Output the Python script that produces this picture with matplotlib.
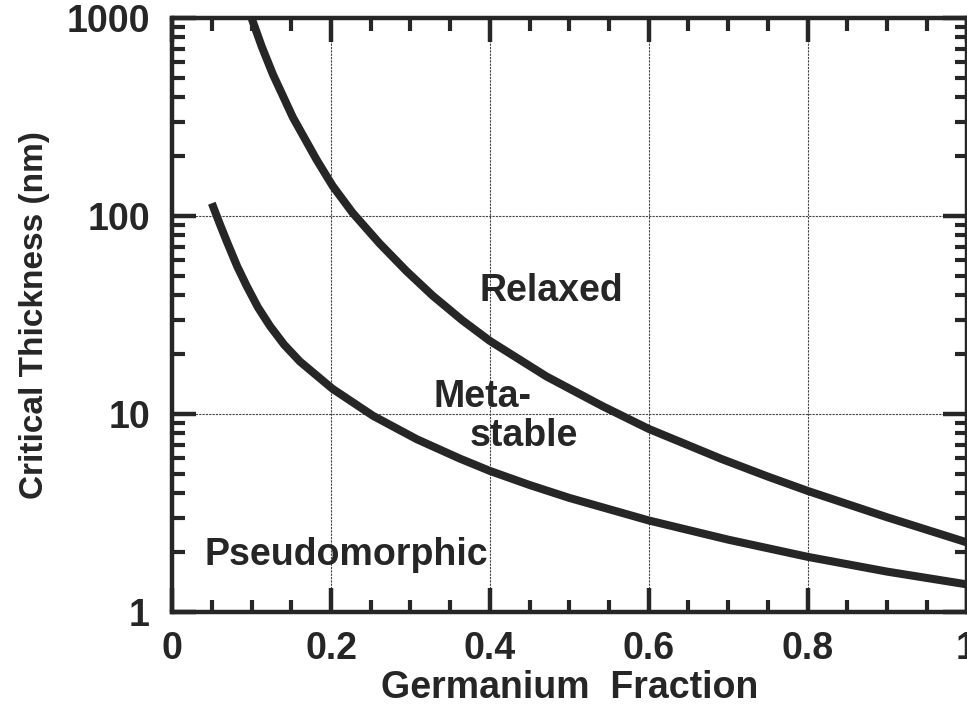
import matplotlib.pyplot as plt
from matplotlib.ticker import MultipleLocator, LogLocator, NullFormatter

# data
relaxed_x = [0.100, 0.113, 0.127, 0.152, 0.182, 0.202, 0.227, 0.261, 0.295, 0.328, 0.365,
             0.400, 0.471, 0.541, 0.600, 0.692, 0.750, 0.800, 0.900, 1.000]
relaxed_y = [1000, 714, 518, 315, 192, 142, 104, 72.8, 52.7, 39.6, 29.8,
             23.4, 15.5, 11.0, 8.41, 5.92, 4.83, 4.09, 3.01, 2.25]

pseudo_x = [0.050, 0.060, 0.069, 0.082, 0.094, 0.108, 0.123, 0.141, 0.161, 0.202, 0.253,
            0.308, 0.362, 0.400, 0.450, 0.500, 0.600, 0.700, 0.800, 0.900, 1.000]
pseudo_y = [116, 91.2, 74.1, 55.6, 44.2, 34.6, 27.9, 22.4, 18.4, 13.4, 9.79,
            7.46, 5.96, 5.16, 4.38, 3.77, 2.90, 2.32, 1.90, 1.60, 1.38]

x_ticks = [0, 0.2, 0.4, 0.6, 0.8, 1.0]
x_labels = ['0', '0.2', '0.4', '0.6', '0.8', '1']
y_ticks = [1, 10, 100, 1000]
y_labels = ['1', '10', '100', '1000']

plt.rcParams['font.family'] = ['Liberation Sans', 'DejaVu Sans']
plt.rcParams['font.weight'] = 'bold'

ink = '#262626'

fig = plt.figure(figsize=(9.67, 7.10), dpi=100)
ax = fig.add_axes([0.178, 0.138, 0.8215, 0.8366])

ax.plot(relaxed_x, relaxed_y, color=ink, lw=5.8, solid_capstyle='butt', solid_joinstyle='round')
ax.plot(pseudo_x, pseudo_y, color=ink, lw=5.8, solid_capstyle='butt', solid_joinstyle='round')

ax.set_yscale('log')
ax.set_xlim(0, 1)
ax.set_ylim(1, 1000)

ax.set_xticks(x_ticks)
ax.set_xticklabels(x_labels)
ax.xaxis.set_minor_locator(MultipleLocator(0.05))
ax.set_yticks(y_ticks)
ax.set_yticklabels(y_labels)
ax.yaxis.set_minor_locator(LogLocator(base=10, subs=range(2, 10)))
ax.yaxis.set_minor_formatter(NullFormatter())

ax.grid(True, which='major', color='#444444', lw=0.8, ls=(0, (2, 1)))

ax.tick_params(which='both', direction='in', top=True, right=True, color=ink)
ax.tick_params(which='major', length=17, width=3.2)
ax.tick_params(which='minor', length=9, width=3.0)
ax.tick_params(axis='x', which='major', labelsize=27, pad=14, colors=ink)
ax.tick_params(axis='y', which='major', labelsize=27, pad=16, colors=ink)

for s in ax.spines.values():
    s.set_linewidth(3.2)
    s.set_color(ink)

ax.set_xlabel('Germanium  Fraction', fontsize=27, fontweight='bold', color=ink, labelpad=2)
ax.set_ylabel('Critical Thickness (nm)', fontsize=24, fontweight='bold', color=ink, labelpad=12)

ax.text(0.387, 42, 'Relaxed', fontsize=27, color=ink, va='center', ha='left')
ax.text(0.329, 12.2, 'Meta-', fontsize=27, color=ink, va='center', ha='left')
ax.text(0.374, 7.7, 'stable', fontsize=27, color=ink, va='center', ha='left')
ax.text(0.041, 1.94, 'Pseudomorphic', fontsize=27, color=ink, va='center', ha='left')

fig.savefig('out.png', dpi=100)
